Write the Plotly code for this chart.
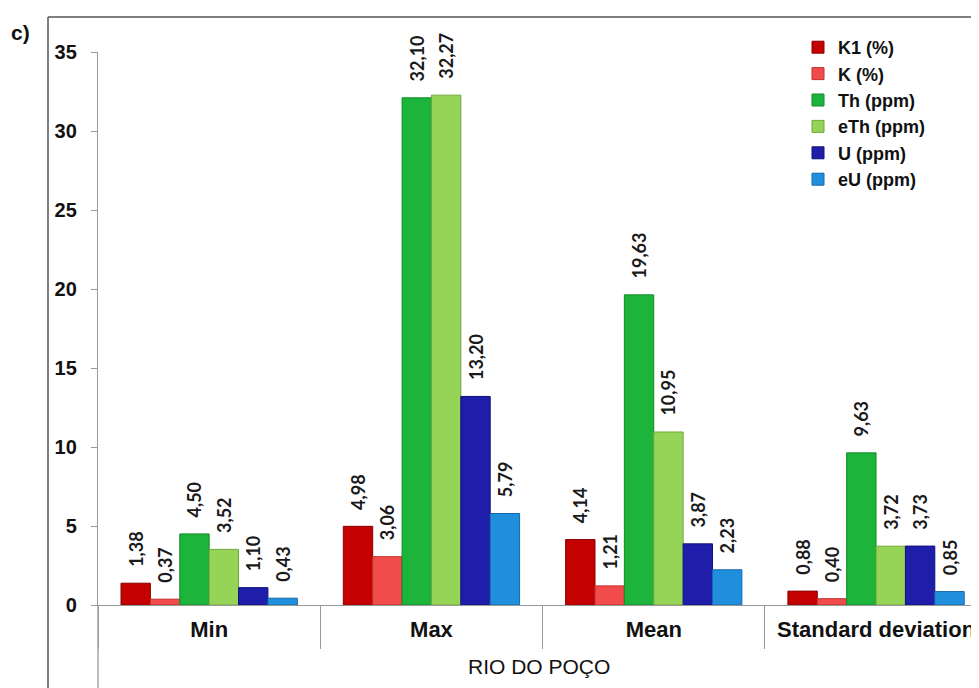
import plotly.graph_objects as go

categories = ["Min", "Max", "Mean", "Standard deviation"]
series_names = ["K1 (%)", "K (%)", "Th (ppm)", "eTh (ppm)", "U (ppm)", "eU (ppm)"]
k1 = [1.38, 4.98, 4.14, 0.88]
k = [0.37, 3.06, 1.21, 0.40]
th = [4.50, 32.10, 19.63, 9.63]
eth = [3.52, 32.27, 10.95, 3.72]
u = [1.10, 13.20, 3.87, 3.73]
eu = [0.43, 5.79, 2.23, 0.85]
y_ticks = [0, 5, 10, 15, 20, 25, 30, 35]

series_values = [k1, k, th, eth, u, eu]
colors = ["#C40000", "#F24B4B", "#1CB43A", "#96D457", "#1E1EAA", "#2090DE"]
edges = ["#8A0000", "#C43030", "#128A28", "#6FA83A", "#12127A", "#1568A8"]

OFF = 8  # page body margin
W, H = 979 - OFF, 688 - OFF
ML, MR, MT = 98 - OFF, 0, 52 - OFF
MB = H - (605 - OFF)
plot_w = W - ML - MR
plot_h = H - MT - MB
cat_px = 222.3

def px_x(px):
    return (px - OFF - ML) / plot_w

def px_y(py):
    return ((605 - OFF) - (py - OFF)) / plot_h

def fmt(v):
    return f"{v:.2f}".replace(".", ",")

fig = go.Figure()
for name, vals, c, e in zip(series_names, series_values, colors, edges):
    fig.add_trace(go.Bar(
        name=name, x=categories, y=vals,
        marker=dict(color=c, line=dict(color=e, width=1)),
        text=["\u2002\u00a0" + fmt(v) for v in vals],
        textposition="outside", textangle=-90,
        textfont=dict(family="Lato", size=18, color="#1a1a1a", weight="bold"),
        constraintext="none", cliponaxis=False,
    ))

fig.update_layout(
    width=W, height=H,
    margin=dict(l=ML, r=MR, t=MT, b=MB, autoexpand=False),
    paper_bgcolor="white", plot_bgcolor="white",
    barmode="group", bargap=0.207, bargroupgap=0,
    font=dict(family="Liberation Sans", color="#111"),
    showlegend=True,
    legend=dict(
        x=px_x(798), y=px_y(29), xanchor="left", yanchor="top",
        bgcolor="rgba(0,0,0,0)", borderwidth=0,
        font=dict(family="Liberation Sans", size=18, color="#111",
                  weight="bold"),
        itemwidth=30, tracegroupgap=0,
    ),
    xaxis=dict(
        range=[-0.5, -0.5 + plot_w / cat_px],
        showline=True, linecolor="#999", linewidth=1.3,
        ticks="outside", tickson="boundaries", ticklen=43,
        tickcolor="#999", tickwidth=1.3,
        ticklabelstandoff=4,
        tickfont=dict(family="Liberation Sans", size=22, color="#111",
                      weight="bold"),
        showgrid=False, zeroline=False, fixedrange=True,
    ),
    yaxis=dict(
        range=[0, 35], tickvals=y_ticks,
        showline=True, linecolor="#999", linewidth=1.3,
        ticks="outside", ticklen=6, tickcolor="#999", tickwidth=1.3,
        ticklabelstandoff=10,
        tickfont=dict(family="Liberation Sans", size=20, color="#111",
                      weight="bold"),
        showgrid=False, zeroline=False, fixedrange=True,
    ),
)

# frame of the panel
fig.add_shape(type="line", xref="paper", yref="paper",
              x0=px_x(48), x1=px_x(48), y0=px_y(17), y1=px_y(700),
              line=dict(color="#555", width=1.5))
fig.add_shape(type="line", xref="paper", yref="paper",
              x0=px_x(48), x1=1.02, y0=px_y(17), y1=px_y(17),
              line=dict(color="#555", width=1.5))
# extension of y axis line below the category area
fig.add_shape(type="line", xref="paper", yref="paper",
              x0=0, x1=0, y0=0, y1=px_y(700),
              line=dict(color="#999", width=1.3))

fig.add_annotation(text="RIO DO POÇO", xref="paper", yref="paper",
                   x=0.5, y=px_y(666), xanchor="center", yanchor="middle",
                   showarrow=False,
                   font=dict(family="Liberation Sans", size=21, color="#111"))
fig.add_annotation(text="<b>c)</b>", xref="paper", yref="paper",
                   x=px_x(9), y=px_y(32), xanchor="left", yanchor="middle",
                   showarrow=False,
                   font=dict(family="Liberation Sans", size=21, color="#111"))

fig.write_html("out.html")
